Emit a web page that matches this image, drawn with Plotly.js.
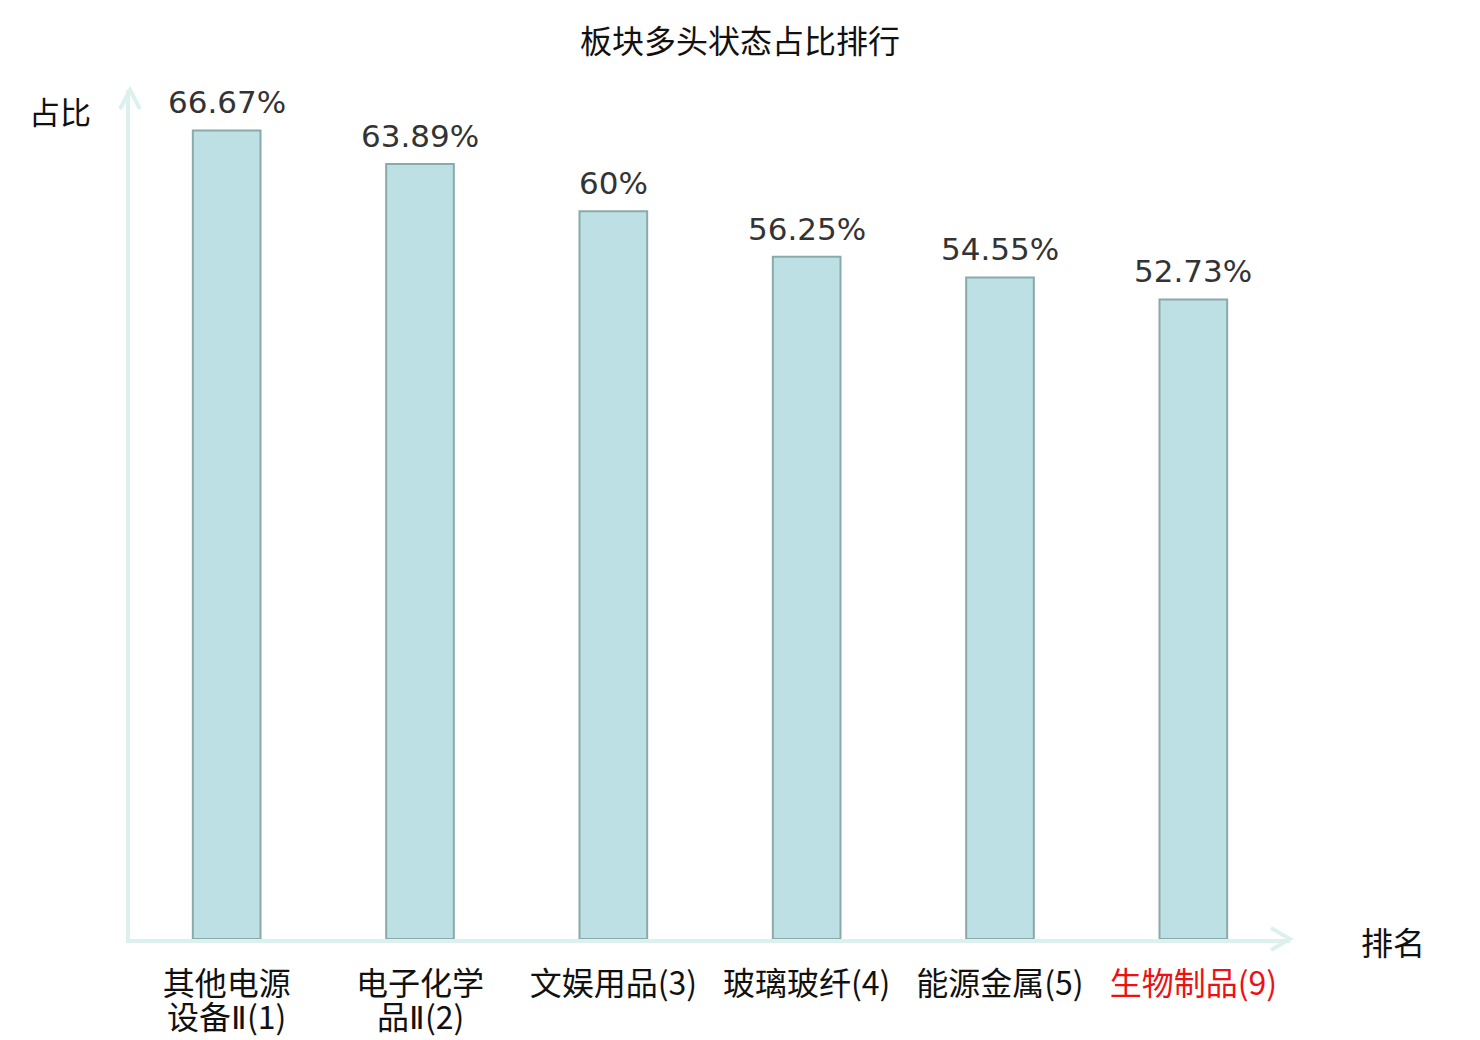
<!DOCTYPE html>
<html>
<head>
<meta charset="utf-8">
<script src="https://cdn.plot.ly/plotly-3.0.1.min.js"></script>
<style>
  html, body { margin: 0; padding: 0; background: #fff; }
  #chart { width: 1480px; height: 1040px; }
</style>
</head>
<body>
<div id="chart"></div>
<script>
// first and second line of each category label (second line may be empty)
var categories = ["其他电源", "电子化学", "文娱用品(3)", "玻璃玻纤(4)", "能源金属(5)", "生物制品(9)"];
var categories2 = ["设备Ⅱ(1)", "品Ⅱ(2)", "", "", "", ""];
var highlight = [false, false, false, false, false, true];
var ratios = [66.67, 63.89, 60, 56.25, 54.55, 52.73];
var ratioLabels = ["66.67%", "63.89%", "60%", "56.25%", "54.55%", "52.73%"];

var axisColor = "#dcf1ee";
var cjk = "'Noto Sans CJK SC', 'DejaVu Sans', sans-serif";

function draw_ratio_bar(div_id) {
    var idx = categories.map(function (c, i) { return i; });
    var tickText = categories.map(function (c, i) {
        if (highlight[i]) return '<span style="color:#ee1111">' + c + '</span>';
        return c;
    });

    var dataset = [
        {
            x: idx,
            y: ratios,
            type: "bar",
            width: 0.35,
            hoverinfo: "none",
            marker: {
                color: "#bce0e3",
                line: { color: "#8aa9ab", width: 2 },
            },
        },
    ];

    var annotations = [
        {
            text: "占比",
            xref: "paper", yref: "paper",
            x: 0, y: 1,
            xanchor: "right", yanchor: "middle",
            xshift: -37, yshift: -20,
            showarrow: false,
            font: { family: cjk, size: 31, color: "#111111" },
        },
        {
            text: "排名",
            xref: "paper", yref: "paper",
            x: 1, y: 0,
            xanchor: "left", yanchor: "middle",
            xshift: 69, yshift: -2,
            showarrow: false,
            font: { family: cjk, size: 32, color: "#111111" },
        },
    ];

    // value labels above bars
    ratios.forEach(function (v, i) {
        annotations.push({
            text: ratioLabels[i],
            x: i, y: v,
            xref: "x", yref: "y",
            xanchor: "center", yanchor: "middle",
            yshift: 28,
            showarrow: false,
            font: { family: "'DejaVu Sans', sans-serif", size: 31, color: "#333333" },
        });
    });

    // second line of the wrapped category labels
    categories2.forEach(function (t, i) {
        if (!t) return;
        annotations.push({
            text: t.replace("Ⅱ", '<span style="font-family:\'Liberation Sans\'">Ⅱ</span>'),
            x: i, y: 0,
            xref: "x", yref: "paper",
            xanchor: "center", yanchor: "middle",
            yshift: -76,
            showarrow: false,
            font: { family: cjk, size: 32, color: highlight[i] ? "#ee1111" : "#111111" },
        });
    });

    var layout = {
        width: 1480,
        height: 1040,
        margin: { l: 130, r: 190, t: 90, b: 101 },
        paper_bgcolor: "#ffffff",
        plot_bgcolor: "#ffffff",
        showlegend: false,
        title: {
            text: "板块多头状态占比排行",
            font: { family: cjk, size: 32, color: "#111111" },
            x: 0.5,
            xanchor: "center",
            y: 0.96,
            yanchor: "middle",
        },
        xaxis: {
            range: [-0.5, 5.5],
            tickmode: "array",
            tickvals: idx,
            ticktext: tickText,
            tickfont: { family: cjk, size: 32, color: "#111111" },
            ticks: "",
            ticklen: 0,
            ticklabelstandoff: 14,
            showgrid: false,
            zeroline: false,
            showline: true,
            linecolor: axisColor,
            linewidth: 4,
            fixedrange: true,
        },
        yaxis: {
            range: [0, 70],
            showticklabels: false,
            ticks: "",
            showgrid: false,
            zeroline: false,
            showline: true,
            linecolor: axisColor,
            linewidth: 4,
            fixedrange: true,
        },
        shapes: [
            {
                type: "path",
                xref: "paper", yref: "paper",
                xsizemode: "pixel", ysizemode: "pixel",
                xanchor: 1, yanchor: 0,
                path: "M -19,11 L 0,0 L -19,-11",
                line: { color: axisColor, width: 4 },
            },
            {
                type: "path",
                xref: "paper", yref: "paper",
                xsizemode: "pixel", ysizemode: "pixel",
                xanchor: 0, yanchor: 1,
                path: "M -10,-19 L 0,0 L 10,-19",
                line: { color: axisColor, width: 4 },
            },
        ],
        annotations: annotations,
    };

    return Plotly.newPlot(div_id, dataset, layout, { displayModeBar: false, staticPlot: true });
}

draw_ratio_bar("chart");
</script>
</body>
</html>
